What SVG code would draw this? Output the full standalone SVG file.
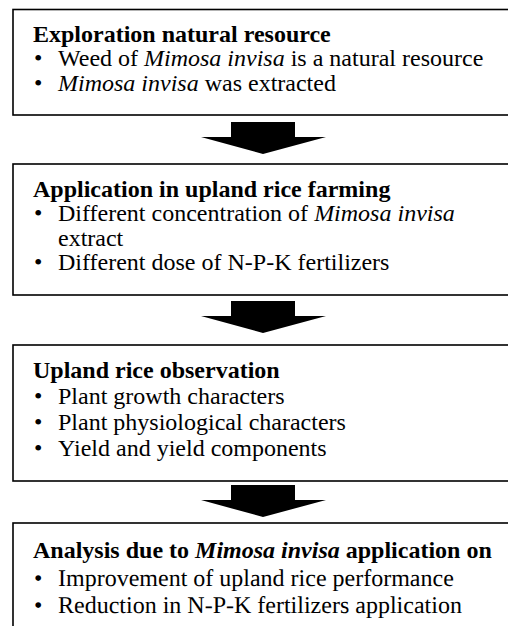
<svg xmlns="http://www.w3.org/2000/svg" width="508" height="626" viewBox="0 0 508 626">
<defs>
<path id="arrow" d="M231,0 H295 V15 H326 L263,32 L201,15 H231 Z" fill="#000"/>
</defs>
<g id="node1">
<rect x="13" y="9.5" width="510" height="105.5" fill="#fff" stroke="#000" stroke-width="1.6"/>
<text x="33" y="42" font-family="Liberation Serif" font-size="24" font-weight="bold">Exploration natural resource</text>
<text x="34" y="66" font-family="Times New Roman" font-size="24" font-weight="normal">•</text>
<text x="58" y="66" font-family="Times New Roman" font-size="24" font-weight="normal">Weed of <tspan font-style="italic">Mimosa invisa</tspan> is a natural resource</text>
<text x="34" y="90.5" font-family="Times New Roman" font-size="24" font-weight="normal">•</text>
<text x="58" y="90.5" font-family="Times New Roman" font-size="24" font-weight="normal"><tspan font-style="italic">Mimosa invisa</tspan> was extracted</text>
</g>
<g id="node2">
<rect x="13" y="164" width="510" height="131" fill="#fff" stroke="#000" stroke-width="1.6"/>
<text x="33" y="196.5" font-family="Liberation Serif" font-size="24" font-weight="bold">Application in upland rice farming</text>
<text x="34" y="221" font-family="serif" font-size="24" font-weight="normal">•</text>
<text x="58" y="221" font-family="serif" font-size="24" font-weight="normal">Different concentration of <tspan font-style="italic">Mimosa invisa</tspan></text>
<text x="58" y="245.5" font-family="serif" font-size="24" font-weight="normal">extract</text>
<text x="34" y="270" font-family="serif" font-size="24" font-weight="normal">•</text>
<text x="58" y="270" font-family="serif" font-size="24" font-weight="normal">Different dose of N-P-K fertilizers</text>
</g>
<g id="node3">
<rect x="13" y="345" width="510" height="136" fill="#fff" stroke="#000" stroke-width="1.6"/>
<text x="33" y="377.5" font-family="Liberation Serif" font-size="24" font-weight="bold">Upland rice observation</text>
<text x="34" y="403.5" font-family="Tinos" font-size="24" font-weight="normal">•</text>
<text x="58" y="403.5" font-family="Tinos" font-size="24" font-weight="normal">Plant growth characters</text>
<text x="34" y="429.5" font-family="Tinos" font-size="24" font-weight="normal">•</text>
<text x="58" y="429.5" font-family="Tinos" font-size="24" font-weight="normal">Plant physiological characters</text>
<text x="34" y="455.5" font-family="Tinos" font-size="24" font-weight="normal">•</text>
<text x="58" y="455.5" font-family="Tinos" font-size="24" font-weight="normal">Yield and yield components</text>
</g>
<g id="node4">
<rect x="13" y="523" width="510" height="120" fill="#fff" stroke="#000" stroke-width="1.6"/>
<text x="33" y="558" font-family="Liberation Serif" font-size="24" font-weight="bold">Analysis due to <tspan font-style="italic">Mimosa invisa</tspan> application on</text>
<text x="34" y="586" font-family="Liberation Serif" font-size="24" font-weight="400" text-rendering="geometricPrecision">•</text>
<text x="58" y="586" font-family="Liberation Serif" font-size="24" font-weight="400" text-rendering="geometricPrecision">Improvement of upland rice performance</text>
<text x="34" y="613" font-family="Liberation Serif" font-size="24" font-weight="400" text-rendering="geometricPrecision">•</text>
<text x="58" y="613" font-family="Liberation Serif" font-size="24" font-weight="400" text-rendering="geometricPrecision">Reduction in N-P-K fertilizers application</text>
</g>
<g id="connectors">
<use href="#arrow" y="122"/>
<use href="#arrow" y="301"/>
<use href="#arrow" y="485"/>
</g>
</svg>
